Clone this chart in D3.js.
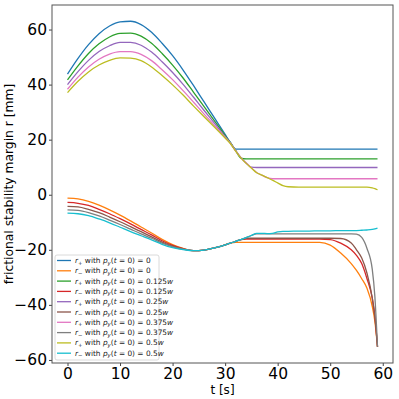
<!DOCTYPE html>
<meta charset="utf-8">
<script src="https://d3js.org/d3.v7.min.js"></script>
<style>
  body { margin: 0; background: #fff; }
  svg { font-family: "DejaVu Sans", sans-serif; }
</style>
<div id="chart"></div>
<script>

// time samples [s]
var tSec = [0,2,4,6,8,10,12,14,16,18,20,22,24,26,28,30,31,32,33,34,35,36,37,38,39,40,41,42,44,46,48,50,52,54,55,56,57,58,58.5,59];

// r+ / r- for each starting p_y (values in mm)
var rPlus0 = [43.8,49.5,54.5,58.5,61.3,62.8,63.0,61.8,59.0,55.0,50.5,45.3,39.6,33.7,27.8,21.9,19.0,16.6,16.6,16.6,16.6,16.6,16.6,16.6,16.6,16.6,16.6,16.6,16.6,16.6,16.6,16.6,16.6,16.6,16.6,16.6,16.6,16.6,16.6,16.6];
var rMinus0 = [-1.2,-1.5,-2.4,-3.8,-5.5,-7.4,-9.5,-11.7,-13.9,-16.2,-18.1,-19.5,-20.3,-20.1,-19.3,-18.2,-17.6,-17.3,-17.3,-17.3,-17.3,-17.3,-17.3,-17.3,-17.3,-17.3,-17.3,-17.3,-17.3,-17.3,-17.3,-18.3,-21.2,-25.0,-27.5,-30.5,-34.0,-40.5,-46.0,-55.2];
var rPlus125 = [41.7,46.8,51.3,54.8,57.3,58.6,58.7,57.6,55.0,51.3,47.1,42.4,37.2,32.0,26.7,21.5,18.9,16.1,13.3,13.0,13.0,13.0,13.0,13.0,13.0,13.0,13.0,13.0,13.0,13.0,13.0,13.0,13.0,13.0,13.0,13.0,13.0,13.0,13.0,13.0];
var rMinus125 = [-2.8,-3.1,-3.9,-5.3,-6.9,-8.7,-10.6,-12.6,-14.6,-16.7,-18.4,-19.6,-20.3,-20.1,-19.3,-18.2,-17.6,-16.9,-16.3,-16.1,-16.1,-16.1,-16.1,-16.1,-16.1,-16.1,-16.1,-16.1,-16.1,-16.1,-16.1,-16.3,-17.6,-20.0,-22.0,-25.0,-30.5,-37.5,-44.0,-55.2];
var rPlus25 = [40.0,44.7,48.8,52.0,54.1,55.3,55.3,54.3,51.8,48.3,44.4,40.1,35.4,30.6,25.9,21.1,18.8,16.0,13.5,11.5,10.0,9.9,9.9,9.9,9.9,9.9,9.9,9.9,9.9,9.9,9.9,9.9,9.9,9.9,9.9,9.9,9.9,9.9,9.9,9.9];
var rMinus25 = [-4.2,-4.4,-5.3,-6.5,-8.1,-9.8,-11.6,-13.4,-15.3,-17.2,-18.7,-19.7,-20.3,-20.1,-19.3,-18.2,-17.6,-16.9,-16.3,-15.8,-15.8,-15.8,-15.8,-15.8,-15.8,-15.8,-15.8,-15.8,-15.8,-15.8,-15.8,-15.8,-15.9,-17.5,-20.0,-23.0,-28.5,-37.5,-44.5,-55.2];
var rPlus375 = [38.3,42.7,46.4,49.2,51.1,52.0,52.0,51.0,48.7,45.4,41.8,37.8,33.6,29.3,25.1,20.8,18.7,15.9,13.5,11.5,9.8,8.1,7.1,6.2,5.8,5.8,5.8,5.8,5.8,5.8,5.8,5.8,5.8,5.8,5.8,5.8,5.8,5.8,5.8,5.8];
var rMinus375 = [-5.5,-5.7,-6.5,-7.7,-9.2,-10.8,-12.5,-14.2,-15.8,-17.6,-18.9,-19.8,-20.3,-20.1,-19.3,-18.2,-17.6,-16.9,-16.3,-15.6,-14.8,-14.2,-14.2,-14.2,-14.2,-14.2,-14.2,-14.2,-14.2,-14.2,-14.2,-14.2,-14.2,-14.2,-14.3,-15.5,-19.5,-27.0,-37.0,-55.2];
var rPlus5 = [37.1,41.2,44.6,47.1,48.8,49.7,49.6,48.7,46.4,43.3,39.9,36.2,32.2,28.3,24.5,20.6,18.6,15.8,13.4,11.4,9.7,8.0,7.1,6.2,5.3,4.3,3.3,2.9,2.8,2.8,2.8,2.8,2.8,2.8,2.8,2.8,2.8,2.5,2.2,1.8];
var rMinus5 = [-6.7,-6.9,-7.6,-8.8,-10.2,-11.8,-13.4,-14.9,-16.4,-18.0,-19.2,-19.9,-20.3,-20.1,-19.3,-18.2,-17.6,-16.9,-16.3,-15.6,-14.8,-14.0,-14.0,-14.1,-14.0,-13.5,-13.3,-13.3,-13.2,-13.2,-13.1,-13.1,-13.0,-13.0,-13.0,-12.9,-12.8,-12.6,-12.4,-12.1];

// legend pieces
var labelSign = ["+", "\u2212", "+", "\u2212", "+", "\u2212", "+", "\u2212", "+", "\u2212"];
var labelPy = ["0", "0", "0.125", "0.125", "0.25", "0.25", "0.375", "0.375", "0.5", "0.5"];
var labelW = [false, false, true, true, true, true, true, true, true, true];

var xTicks = [0, 10, 20, 30, 40, 50, 60];
var yTicks = [-60, -40, -20, 0, 20, 40, 60];

var colors = ["#1f77b4","#ff7f0e","#2ca02c","#d62728","#9467bd","#8c564b","#e377c2","#7f7f7f","#bcbd22","#17becf"];

var allSeries = [rPlus0, rMinus0, rPlus125, rMinus125, rPlus25, rMinus25, rPlus375, rMinus375, rPlus5, rMinus5];

var W = 399, H = 399;
var plot = {left: 52, right: 393, top: 5, bottom: 363};

var svg = d3.select("#chart").append("svg")
  .attr("width", W).attr("height", H);

// matplotlib style 5% margins
var tExt = d3.extent(tSec);
var tPad = (tExt[1] - tExt[0]) * 0.05;
var vMin = d3.min(allSeries, function(s) { return d3.min(s); });
var vMax = d3.max(allSeries, function(s) { return d3.max(s); });
var vPad = (vMax - vMin) * 0.05;

var x = d3.scaleLinear().domain([tExt[0] - tPad, tExt[1] + tPad]).range([plot.left, plot.right]);
var y = d3.scaleLinear().domain([vMin - vPad, vMax + vPad]).range([plot.bottom, plot.top]);

var line = d3.line()
  .x(function(d, i) { return x(tSec[i]); })
  .y(function(d) { return y(d); })
  .curve(d3.curveMonotoneX);

svg.append("g").selectAll("path")
  .data(allSeries)
  .enter().append("path")
    .attr("d", line)
    .attr("fill", "none")
    .attr("stroke", function(d, i) { return colors[i]; })
    .attr("stroke-width", 1.3);

// axes
var xAxis = svg.append("g")
  .attr("transform", "translate(0," + plot.bottom + ")")
  .call(d3.axisBottom(x).tickValues(xTicks).tickSize(3).tickPadding(1.5).tickSizeOuter(0));
var yAxis = svg.append("g")
  .attr("transform", "translate(" + plot.left + ",0)")
  .call(d3.axisLeft(y).tickValues(yTicks).tickSize(3).tickPadding(2).tickSizeOuter(0));

[xAxis, yAxis].forEach(function(a) {
  a.select(".domain").remove();
  a.selectAll("text").attr("font-size", 15.5).attr("fill", "#000").attr("font-family", "DejaVu Sans");
  a.selectAll("line").attr("stroke", "#444");
});

// frame
svg.append("rect")
  .attr("x", plot.left).attr("y", plot.top)
  .attr("width", plot.right - plot.left).attr("height", plot.bottom - plot.top)
  .attr("fill", "none").attr("stroke", "#555").attr("stroke-width", 1);

// axis labels
svg.append("text")
  .attr("x", (plot.left + plot.right) / 2).attr("y", 394)
  .attr("text-anchor", "middle").attr("font-size", 12)
  .text("t [s]");

svg.append("text")
  .attr("transform", "translate(13," + ((plot.top + plot.bottom) / 2) + ") rotate(-90)")
  .attr("text-anchor", "middle").attr("font-size", 12.3)
  .text("frictional stability margin r [mm]");

// legend
var leg = svg.append("g").attr("transform", "translate(55,255)");
leg.append("rect")
  .attr("width", 104).attr("height", 105).attr("rx", 2)
  .attr("fill", "#fff").attr("fill-opacity", 0.8)
  .attr("stroke", "#d0d0d0").attr("stroke-width", 0.8);

var rowH = 10.3;
var rows = leg.selectAll("g.row")
  .data(colors)
  .enter().append("g")
    .attr("transform", function(d, i) { return "translate(0," + (5.5 + i * rowH) + ")"; });

rows.append("line")
  .attr("x1", 2).attr("x2", 16)
  .attr("stroke", function(d) { return d; })
  .attr("stroke-width", 1.3);

var txt = rows.append("text")
  .attr("x", 20).attr("y", 2.5)
  .attr("font-size", 7.4).attr("fill", "#222");

txt.each(function(d, i) {
  var t = d3.select(this);
  t.append("tspan").attr("font-style", "italic").text("r");
  t.append("tspan").attr("font-size", 5.3).attr("dy", 1.5).text(labelSign[i]);
  t.append("tspan").attr("dy", -1.5).text(" with ");
  t.append("tspan").attr("font-style", "italic").text("p");
  t.append("tspan").attr("font-size", 5.3).attr("font-style", "italic").attr("dy", 1.5).text("y");
  t.append("tspan").attr("dy", -1.5).text("(");
  t.append("tspan").attr("font-style", "italic").text("t");
  t.append("tspan").text(" = 0) = " + labelPy[i]);
  if (labelW[i]) t.append("tspan").attr("font-style", "italic").text("w");
});

</script>
